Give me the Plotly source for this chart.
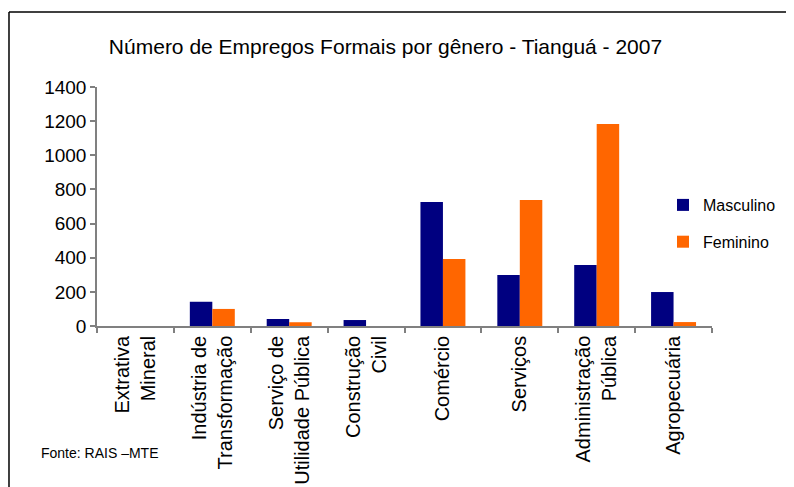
import plotly.graph_objects as go

# Dados: empregos formais por setor e gênero - Tianguá 2007
setores = [
    "Extrativa<br>Mineral",
    "Indústria de<br>Transformação",
    "Serviço de<br>Utilidade Pública",
    "Construção<br>Civil",
    "Comércio",
    "Serviços",
    "Administração<br>Pública",
    "Agropecuária",
]
masculino = [0, 142, 41, 35, 726, 299, 357, 199]
feminino = [0, 100, 22, 0, 392, 738, 1183, 23]

y_ticks = [0, 200, 400, 600, 800, 1000, 1200, 1400]

FONT = "Liberation Sans, Arial, sans-serif"

# a página tem 8px de margem no body: figura de 786x479
W, H = 786, 479
OFF = 8

fig = go.Figure()

fig.add_trace(go.Bar(
    x=setores, y=masculino, name="Masculino",
    marker=dict(color="#000080", line_width=0),
    legendgroup="m",
))
fig.add_trace(go.Bar(
    x=setores, y=feminino, name="Feminino",
    marker=dict(color="#FF6600", line_width=0),
    legendgroup="f",
))

# moldura (apenas borda superior e esquerda visíveis)
fig.add_shape(type="line", xref="paper", yref="paper",
              x0=-0.1431, x1=1.2, y0=1.3138, y1=1.3138,
              line=dict(color="black", width=1.5))
fig.add_shape(type="line", xref="paper", yref="paper",
              x0=-0.1431, x1=-0.1431, y0=1.3138, y1=-0.7,
              line=dict(color="black", width=1.5))

fig.add_annotation(
    text="Fonte: RAIS –MTE", xref="paper", yref="paper",
    x=(39 - 97) / 615, y=(326 - 453) / 239,
    xanchor="left", yanchor="middle", showarrow=False,
    font=dict(family=FONT, size=14, color="black"),
)

fig.update_layout(
    width=W, height=H,
    margin=dict(l=97 - OFF, r=W - (712 - OFF), t=87 - OFF, b=H - (326 - OFF)),
    paper_bgcolor="white", plot_bgcolor="white",
    barmode="group", bargap=0.415, bargroupgap=0,
    title=dict(
        text="Número de Empregos Formais por gênero - Tianguá - 2007",
        x=(385.5 - OFF) / W, xref="container", xanchor="center",
        y=1 - (47 - OFF) / H, yref="container", yanchor="middle",
        font=dict(family=FONT, size=21, color="black"),
    ),
    font=dict(family=FONT, color="black"),
    showlegend=True,
    legend=dict(
        x=(663 - 97) / 615, y=(326 - 188) / 239,
        xanchor="left", yanchor="top",
        bgcolor="rgba(0,0,0,0)",
        font=dict(family=FONT, size=16, color="black"),
        traceorder="grouped", tracegroupgap=13,
    ),
    xaxis=dict(
        showline=True, linecolor="#808080", linewidth=1.5,
        ticks="outside", tickson="boundaries", ticklen=5,
        tickcolor="#808080", tickwidth=1.5,
        tickangle=-90, tickfont=dict(family=FONT, size=20, color="black"),
        showgrid=False, automargin=False,
    ),
    yaxis=dict(
        range=[0, 1400], tickvals=y_ticks,
        showline=True, linecolor="#808080", linewidth=1.5,
        ticks="outside", ticklen=5, tickcolor="#808080", tickwidth=1.5,
        tickfont=dict(family=FONT, size=19, color="black"),
        showgrid=False, zeroline=False, automargin=False,
    ),
)

fig.write_html("out.html")
